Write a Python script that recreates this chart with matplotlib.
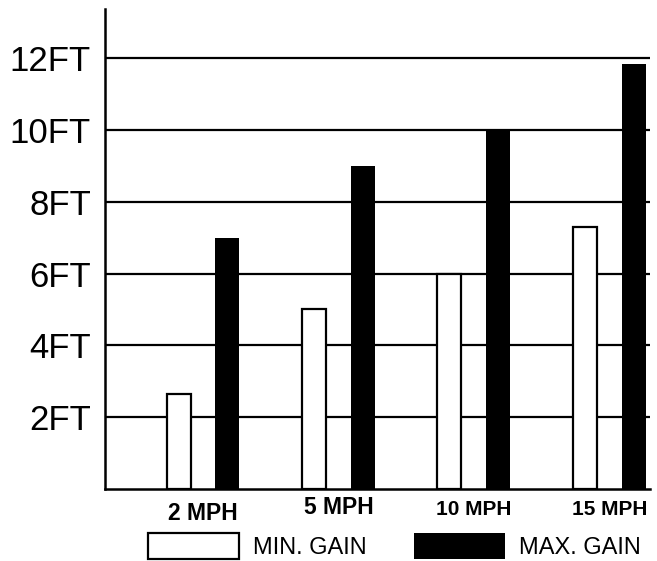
import matplotlib.pyplot as plt
import numpy as np

# Wave height gain by wind speed
speeds = ['2 MPH', '5 MPH', '10 MPH', '15 MPH']
min_gain = [2.65, 5.0, 6.0, 7.3]
max_gain = [7.0, 9.0, 10.0, 11.85]
ytick_vals = [2, 4, 6, 8, 10, 12]
ytick_labels = ['2FT', '4FT', '6FT', '8FT', '10FT', '12FT']

fig = plt.figure(figsize=(6.57, 5.61), dpi=100)
ax = fig.add_axes([0.1594, 0.1283, 0.8299, 0.8557])

x = np.arange(len(speeds))
w = 0.177
off = 0.18

ax.bar(x - off, min_gain, width=w, color='white', edgecolor='black',
       linewidth=1.6, label='MIN. GAIN', zorder=3)
ax.bar(x + off, max_gain, width=w, color='black', edgecolor='black',
       linewidth=0, label='MAX. GAIN', zorder=3)

ax.set_xlim(-0.725, 3.30)
ax.set_ylim(0, 13.37)

ax.set_yticks(ytick_vals)
ax.set_yticklabels(ytick_labels, fontsize=25, family=['Liberation Sans', 'DejaVu Sans'])
ax.tick_params(axis='y', length=0, pad=10)
ax.set_xticks([])
ax.yaxis.grid(True, color='black', linewidth=1.6)
ax.set_axisbelow(True)

for side in ['top', 'right']:
    ax.spines[side].set_visible(False)
ax.spines['left'].set_linewidth(1.8)
ax.spines['bottom'].set_linewidth(1.8)

# speed labels below the axis (two sizes as in the original)
label_y = [-0.050, -0.039, -0.042, -0.042]
label_size = [16.5, 16.5, 15, 15]
for i, s in enumerate(speeds):
    ax.text(x[i], label_y[i], s, transform=ax.get_xaxis_transform(),
            ha='center', va='center', fontsize=label_size[i], fontweight='bold',
            family=['Liberation Sans', 'DejaVu Sans'])

leg = ax.legend(loc='center left', bbox_to_anchor=(148 / 657, 15 / 561),
                bbox_transform=fig.transFigure, ncol=2, frameon=False,
                prop={'family': 'Liberation Sans', 'size': 17},
                handlelength=3.85, handleheight=1.3, handletextpad=0.6,
                columnspacing=2.0, borderpad=0, borderaxespad=0)

fig.savefig('out.png', dpi=100)
